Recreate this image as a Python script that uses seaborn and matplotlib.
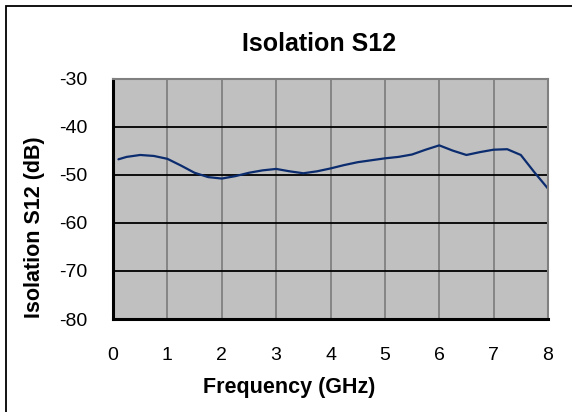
import matplotlib
matplotlib.use("Agg")
import matplotlib.pyplot as plt
import seaborn as sns
import pandas as pd
from matplotlib.patches import Rectangle

# Data
freq_ghz = [0.1, 0.25, 0.5, 0.75, 1.0, 1.25, 1.5, 1.75, 2.0, 2.25, 2.5, 2.75,
            3.0, 3.25, 3.5, 3.75, 4.0, 4.25, 4.5, 4.75, 5.0, 5.25, 5.5, 5.75,
            6.0, 6.25, 6.5, 6.75, 7.0, 7.25, 7.5, 7.75, 8.0]
s12_db = [-46.8, -46.3, -45.9, -46.1, -46.7, -48.1, -49.6, -50.5, -50.8, -50.3,
          -49.6, -49.1, -48.8, -49.3, -49.7, -49.3, -48.7, -48.0, -47.4, -47.0,
          -46.6, -46.3, -45.8, -44.8, -43.9, -45.0, -45.9, -45.3, -44.8, -44.7,
          -45.9, -49.5, -52.9]
x_ticks = [0, 1, 2, 3, 4, 5, 6, 7, 8]
y_ticks = [-80, -70, -60, -50, -40, -30]
title = "Isolation S12"
x_label = "Frequency (GHz)"
y_label = "Isolation S12 (dB)"

df = pd.DataFrame({"freq": freq_ghz, "s12": s12_db})

sns.set_style("white")
plt.rcParams["font.family"] = ["Liberation Sans", "DejaVu Sans"]

W, H = 572, 412
fig = plt.figure(figsize=(W / 100, H / 100), dpi=100)
fig.patch.set_facecolor("white")

left, right, top, bottom = 113, 548, 78.5, 319
ax = fig.add_axes([left / W, 1 - bottom / H, (right - left) / W, (bottom - top) / H])
ax.set_facecolor("#C0C0C0")

sns.lineplot(data=df, x="freq", y="s12", ax=ax, color="#0B2C6E", linewidth=1.6)

ax.set_xlim(0, 8)
ax.set_ylim(-80, -30)
ax.set_xticks(x_ticks)
ax.set_yticks(y_ticks)
ax.set_xticklabels([str(v) for v in x_ticks])
ax.set_yticklabels([str(v) for v in y_ticks])
ax.set_xlabel("")
ax.set_ylabel("")

ax.set_axisbelow(True)
ax.yaxis.grid(True, color="black", linewidth=1.3)
ax.xaxis.grid(True, color="#808080", linewidth=1.3)

for s in ["left", "bottom"]:
    ax.spines[s].set_color("black")
    ax.spines[s].set_linewidth(2.2)
for s in ["top", "right"]:
    ax.spines[s].set_color("#808080")
    ax.spines[s].set_linewidth(1.5)

ax.tick_params(axis="both", which="major", direction="out", length=4.5, width=1.5,
               color="black", labelsize=14, labelcolor="black")
ax.tick_params(axis="y", pad=14)
ax.tick_params(axis="x", pad=16)

fig.text(319.5 / W, 1 - 44 / H, title, ha="center", va="center",
         fontsize=18, fontweight="bold", color="black")
fig.text(289 / W, 1 - 388 / H, x_label, ha="center", va="center",
         fontsize=15.5, fontweight="bold", color="black")
fig.text(35 / W, 1 - 227 / H, y_label, ha="center", va="center", rotation=90,
         fontsize=15.5, fontweight="bold", color="black")

# outer chart frame (right and bottom edges fall outside the image)
fig.patches.append(Rectangle((5.5 / W, -0.1), 1.2, 1 - 5.5 / H + 0.1,
                             transform=fig.transFigure, fill=False,
                             edgecolor="black", linewidth=1.3))

fig.savefig("out.png", dpi=100, facecolor="white")
